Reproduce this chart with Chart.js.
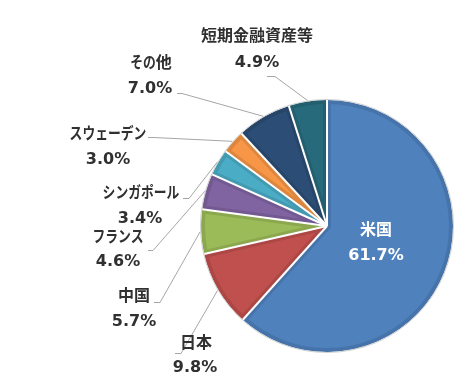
<!DOCTYPE html>
<html>
<head>
<meta charset="utf-8">
<script src="https://cdn.jsdelivr.net/npm/chart.js@4/dist/chart.umd.min.js"></script>
<style>
  html, body { margin: 0; padding: 0; background: #ffffff; }
  #wrap { width: 461px; height: 380px; position: relative; }
</style>
</head>
<body>
<div id="wrap"><canvas id="c" width="461" height="380"></canvas></div>
<script>
// ---- data ----
const categories = ['米国', '日本', '中国', 'フランス', 'シンガポール', 'スウェーデン', 'その他', '短期金融資産等'];
const values = [61.7, 9.8, 5.7, 4.6, 3.4, 3.0, 7.0, 4.9];
const valueLabels = ['61.7%', '9.8%', '5.7%', '4.6%', '3.4%', '3.0%', '7.0%', '4.9%'];

// ---- styles ----
const colors = ['#4F81BD', '#C0504D', '#9BBB59', '#8064A2', '#4BACC6', '#F79646', '#2C4D75', '#276A7C'];

// ---- label layout (name center, value center, leader start, elbow) ----
const labelLayout = [
  { inside: true, name: [376, 229], val: [376, 256] },
  { name: [196, 342], val: [195, 368], line: [[175, 353], [181, 353]] },
  { name: [134, 295], val: [134, 322], line: [[154, 302], [160, 302]] },
  { name: [118, 236], val: [118, 262], line: [[148, 250], [153, 250]] },
  { name: [141, 192], val: [140, 219], line: [[183, 198], [189, 198]] },
  { name: [108, 133], val: [108, 160], line: [[148, 137], [154, 137]] },
  { name: [151, 62],  val: [150, 89],  line: [[177, 93], [182, 93]] },
  { name: [257, 35],  val: [257, 63],  line: [[267, 76], [275, 76]] }
];

const KANA_SCALE = 0.8;

function isKana(ch) {
  const c = ch.charCodeAt(0);
  return (c >= 0x3040 && c <= 0x30FF);
}

// draw a name with proportional (narrower) kana, centered at x
function drawName(ctx, text, x, y) {
  const chars = Array.from(text);
  const adv = chars.map(ch => {
    const w = ctx.measureText(ch).width;
    return isKana(ch) ? w * KANA_SCALE : w;
  });
  const total = adv.reduce((a, b) => a + b, 0);
  let cx = x - total / 2;
  ctx.textAlign = 'center';
  chars.forEach((ch, i) => {
    const mx = cx + adv[i] / 2;
    if (isKana(ch)) {
      ctx.save();
      ctx.translate(mx, y);
      ctx.scale(KANA_SCALE, 1);
      ctx.fillText(ch, 0, 0);
      ctx.restore();
    } else {
      ctx.fillText(ch, mx, y);
    }
    cx += adv[i];
  });
}

function arcPath(ctx, el) {
  ctx.beginPath();
  ctx.moveTo(el.x, el.y);
  ctx.arc(el.x, el.y, el.outerRadius, el.startAngle, el.endAngle);
  ctx.closePath();
}

const piePlugin = {
  id: 'pieDecor',
  afterDatasetsDraw(chart) {
    const ctx = chart.ctx;
    const meta = chart.getDatasetMeta(0);
    ctx.save();
    // inner darker band
    meta.data.forEach((el) => {
      ctx.save();
      arcPath(ctx, el);
      ctx.clip();
      arcPath(ctx, el);
      ctx.strokeStyle = 'rgba(0,0,0,0.10)';
      ctx.lineWidth = 8;
      ctx.lineJoin = 'miter';
      ctx.stroke();
      ctx.restore();
    });
    // white separators
    meta.data.forEach((el) => {
      ctx.beginPath();
      ctx.moveTo(el.x, el.y);
      ctx.lineTo(el.x + el.outerRadius * Math.cos(el.startAngle), el.y + el.outerRadius * Math.sin(el.startAngle));
      ctx.strokeStyle = '#ffffff';
      ctx.lineWidth = 2;
      ctx.stroke();
    });
    // outer ring
    const e0 = meta.data[0];
    ctx.beginPath();
    ctx.arc(e0.x, e0.y, e0.outerRadius + 0.5, 0, Math.PI * 2);
    ctx.strokeStyle = '#d0d0d0';
    ctx.lineWidth = 1;
    ctx.stroke();

    // leader lines
    meta.data.forEach((el, i) => {
      const L = labelLayout[i];
      if (L.inside) return;
      const mid = (el.startAngle + el.endAngle) / 2;
      const px = el.x + (el.outerRadius + 1) * Math.cos(mid);
      const py = el.y + (el.outerRadius + 1) * Math.sin(mid);
      ctx.beginPath();
      ctx.moveTo(L.line[0][0], L.line[0][1] + 0.5);
      ctx.lineTo(L.line[1][0], L.line[1][1] + 0.5);
      ctx.lineTo(px, py);
      ctx.strokeStyle = '#a6a6a6';
      ctx.lineWidth = 1;
      ctx.stroke();
    });

    // labels
    ctx.textBaseline = 'middle';
    meta.data.forEach((el, i) => {
      const L = labelLayout[i];
      const col = L.inside ? '#ffffff' : '#303030';
      ctx.fillStyle = col;
      ctx.font = 'bold 16px "Noto Sans CJK JP"';
      drawName(ctx, categories[i], L.name[0], L.name[1]);
      ctx.font = 'bold 16px "DejaVu Sans"';
      ctx.textAlign = 'center';
      ctx.fillText(valueLabels[i], L.val[0], L.val[1]);
    });
    ctx.restore();
  }
};

new Chart(document.getElementById('c'), {
  type: 'pie',
  data: {
    labels: categories,
    datasets: [{
      data: values,
      backgroundColor: colors,
      borderWidth: 0,
      hoverOffset: 0
    }]
  },
  options: {
    responsive: false,
    animation: false,
    layout: { padding: { left: 201, right: 8, top: 100, bottom: 28 } },
    plugins: { legend: { display: false }, tooltip: { enabled: false } },
    events: []
  },
  plugins: [piePlugin]
});
</script>
</body>
</html>
